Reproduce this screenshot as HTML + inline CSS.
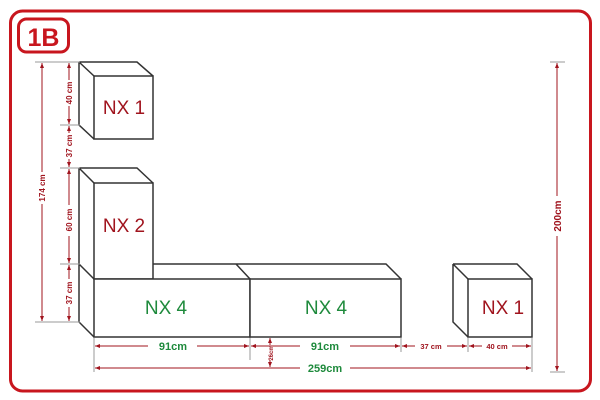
<!DOCTYPE html>
<html><head><meta charset="utf-8"><style>
html,body{margin:0;padding:0;background:#fff;width:600px;height:400px;overflow:hidden}
svg{display:block}
text{font-family:"Liberation Sans",sans-serif}
</style></head><body>
<svg width="600" height="400" viewBox="0 0 600 400" xmlns="http://www.w3.org/2000/svg">
<defs>
<marker id="a" viewBox="0 0 10 10" refX="10" refY="5" markerWidth="5" markerHeight="5" orient="auto-start-reverse"><path d="M0,1 L10,5 L0,9 z" fill="#a0141e"/></marker>
</defs>
<rect x="10.5" y="11" width="580" height="380" rx="12" fill="none" stroke="#c8161e" stroke-width="3"/>
<rect x="18.5" y="19" width="50" height="33" rx="8" fill="#fff" stroke="#c8161e" stroke-width="3"/>
<text x="43.5" y="46" font-size="25" font-weight="bold" fill="#c8161e" text-anchor="middle">1B</text>

<g fill="none" stroke="#333" stroke-width="1.5">
<path d="M79,62 L137,62 L153,76 M79,62 L94,76 M79,62 L79,125 L94,139"/>
<rect x="94" y="76" width="59" height="63" fill="#fff"/>
<path d="M79,168 L137,168 L153,183 M79,168 L94,183 M79,168 L79,264"/>
<rect x="94" y="183" width="59" height="96" fill="#fff"/>
<path d="M153,264 L386,264 L401,279 M236,264 L250,279 M79,264 L94,279 M79,264 L79,322 L94,337"/>
<rect x="94" y="279" width="156" height="58" fill="#fff"/>
<rect x="250" y="279" width="151" height="58" fill="#fff"/>
<path d="M453,264 L517,264 L532,279 M453,264 L468,279 M453,264 L453,322 L468,337"/>
<rect x="468" y="279" width="64" height="58" fill="#fff"/>
</g>
<g font-size="19" text-anchor="middle">
<text x="124" y="114" fill="#a0141e">NX 1</text>
<text x="124" y="232" fill="#a0141e">NX 2</text>
<text x="166" y="314" fill="#1e8a3c">NX 4</text>
<text x="326" y="314" fill="#1e8a3c">NX 4</text>
<text x="503" y="314" fill="#a0141e">NX 1</text>
</g>

<g stroke="#999" stroke-width="1">
<path d="M35,62 H80 M35,322 H80 M60,125 H80 M60,168 H80 M60,264 H80"/>
<path d="M94,338 V372 M250,338 V360 M401,338 V352 M468,338 V352 M532,338 V372 M550,372 H565 M550,62 H565"/>
</g>
<g stroke="#a0141e" stroke-width="1" fill="none">
<path d="M42,63 V172 M42,204 V321" marker-start="url(#a)" marker-end="url(#a)"/>
<path d="M69,63 V80 M69,106 V124" marker-start="url(#a)" marker-end="url(#a)"/>
<path d="M69,126 V133 M69,159 V167" marker-start="url(#a)" marker-end="url(#a)"/>
<path d="M69,169 V205 M69,236 V263" marker-start="url(#a)" marker-end="url(#a)"/>
<path d="M69,265 V279 M69,307 V321" marker-start="url(#a)" marker-end="url(#a)"/>
<path d="M557,63 V196 M557,236 V371" marker-start="url(#a)" marker-end="url(#a)"/>
<path d="M95,346 H148 M197,346 H249" marker-start="url(#a)" marker-end="url(#a)"/>
<path d="M251,346 H300 M350,346 H400" marker-start="url(#a)" marker-end="url(#a)"/>
<path d="M402,346 H415 M447,346 H467" marker-start="url(#a)" marker-end="url(#a)"/>
<path d="M469,346 H482 M512,346 H531" marker-start="url(#a)" marker-end="url(#a)"/>
<path d="M95,368 H300 M350,368 H531" marker-start="url(#a)" marker-end="url(#a)"/>
<path d="M270,338 V345 M270,360 V367" marker-start="url(#a)" marker-end="url(#a)"/>
</g>
<g fill="#a0141e" font-size="8" font-weight="bold" text-anchor="middle">
<text transform="translate(45,188) rotate(-90)">174 cm</text>
<text transform="translate(72,93) rotate(-90)">40 cm</text>
<text transform="translate(72,146) rotate(-90)">37 cm</text>
<text transform="translate(72,220) rotate(-90)">60 cm</text>
<text transform="translate(72,293) rotate(-90)">37 cm</text>
<text transform="translate(273,353) rotate(-90)" font-size="6">26cm</text>
<text transform="translate(561,216) rotate(-90)" font-size="10">200cm</text>
<text x="431" y="349" font-size="7.5">37 cm</text>
<text x="497" y="349" font-size="7.5">40 cm</text>
</g>
<g fill="#1e8a3c" font-size="11" font-weight="bold" text-anchor="middle">
<text x="173" y="350">91cm</text>
<text x="325" y="350">91cm</text>
<text x="325" y="372">259cm</text>
</g>
</svg>
</body></html>
